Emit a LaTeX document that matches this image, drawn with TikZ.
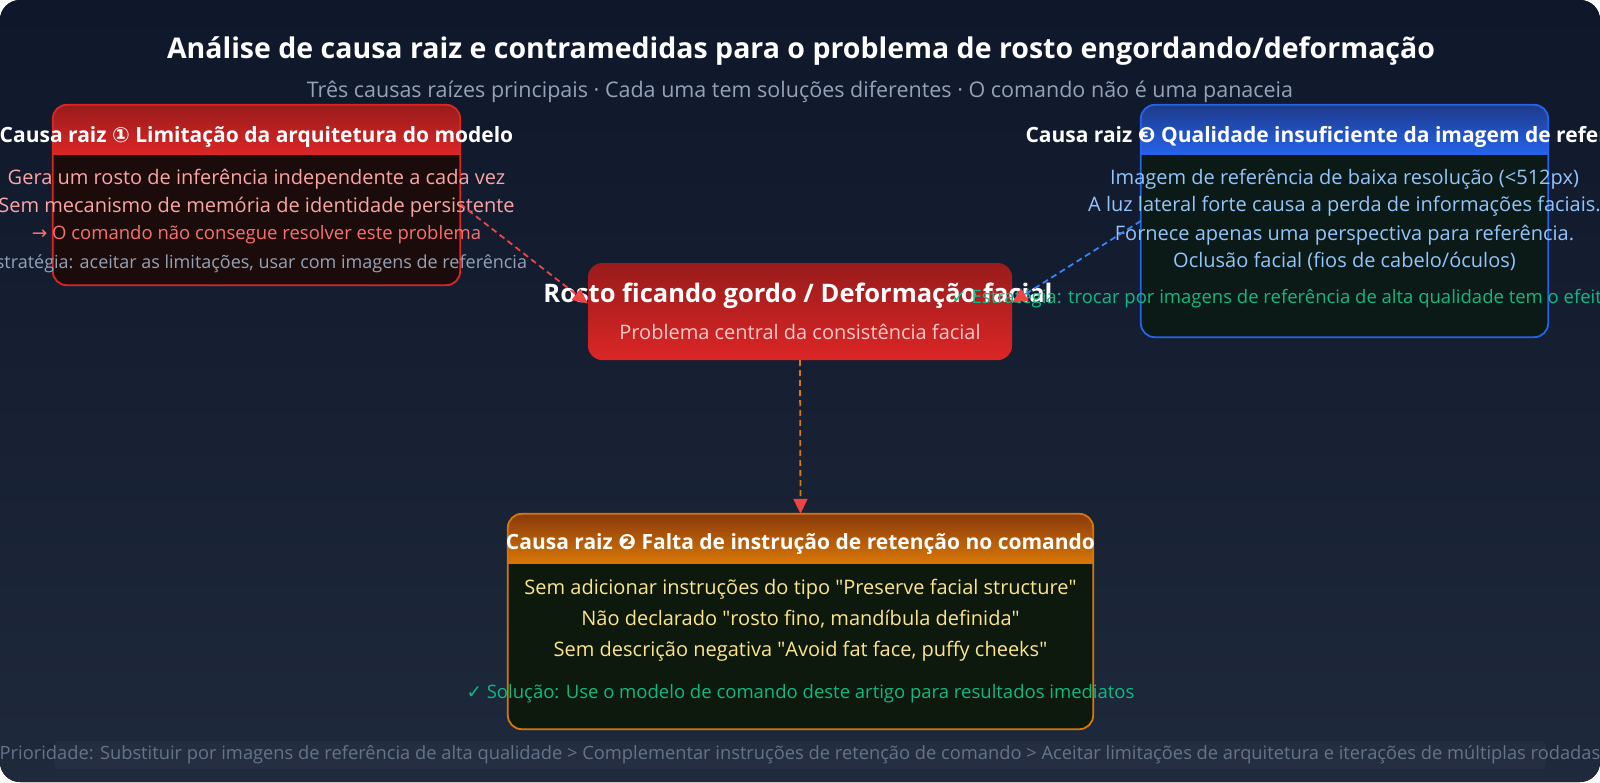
\documentclass[tikz,border=0pt]{standalone}
\usepackage{fontspec}
\setmainfont{Open Sans}
\newfontfamily\symf{DejaVu Sans}
\usetikzlibrary{arrows.meta, positioning}
\definecolor{bgtop}{HTML}{0F172A}
\definecolor{bgbot}{HTML}{1E293B}
\definecolor{redlo}{HTML}{991B1B}
\definecolor{redhi}{HTML}{DC2626}
\definecolor{bluelo}{HTML}{1E3A8A}
\definecolor{bluehi}{HTML}{2563EB}
\definecolor{orglo}{HTML}{8A3A0C}
\definecolor{orghi}{HTML}{D97706}
\definecolor{redbody}{HTML}{1C0B0B}
\definecolor{bluebody}{HTML}{0B1A17}
\definecolor{orgbody}{HTML}{0C190C}
\definecolor{pinktxt}{HTML}{FCA5A5}
\definecolor{redtxt}{HTML}{F87171}
\definecolor{greytxt}{HTML}{94A3B8}
\definecolor{dimtxt}{HTML}{64748B}
\definecolor{bluetxt}{HTML}{93C5FD}
\definecolor{yeltxt}{HTML}{FDE68A}
\definecolor{greentxt}{HTML}{10B981}
\definecolor{tipred}{HTML}{EF4444}
\definecolor{bluelink}{HTML}{3B82F6}
\definecolor{coresub}{HTML}{FECACA}
\tikzset{
  cause/.style n args={3}{rectangle, rounded corners=14pt, fill=#3, inner sep=0pt,
    minimum width=#1, minimum height=#2},
  hdtxt/.style={text=white, font=\bfseries\fontsize{21}{24}\selectfont, inner sep=0pt},
  line/.style={text=#1, font=\fontsize{20}{24}\selectfont, inner sep=0pt},
  note/.style={text=#1, font=\fontsize{18.5}{22}\selectfont, inner sep=0pt},
  link/.style={#1, dash pattern=on 6pt off 4pt, line width=1.8pt, -{Triangle[length=15pt, width=14pt, color=tipred]}},
}
\newcommand{\qq}[1]{\textquotedbl#1\textquotedbl}
\begin{document}
\begin{tikzpicture}[x=1pt, y=1pt]
  \useasboundingbox (0,0) rectangle (1600,-782);
  \fill[top color=bgtop, bottom color=bgbot, rounded corners=20pt] (0,0) rectangle (1600,-782);
  \begin{scope}
  \clip (0,0) rectangle (1600,-782);

  % title
  \node[text=white, font=\bfseries\fontsize{28.5}{32}\selectfont] (title) at (801,-51)
    {Análise de causa raiz e contramedidas para o problema de rosto engordando/deformação};
  \node[text=greytxt, font=\fontsize{21.5}{24}\selectfont] (subtitle) at (800,-92)
    {Três causas raízes principais · Cada uma tem soluções diferentes · O comando não é uma panaceia};

  % boxes
  \node[cause={407pt}{180pt}{redbody}] (rA) at (256.5,-195) {};
  \node[rectangle, rounded corners=14pt, top color=redlo, bottom color=redhi, minimum width=424pt,
    minimum height=97pt] (core) at (800,-311.5) {};
  \node[cause={407pt}{232pt}{bluebody}] (rB) at (1344.5,-221) {};
  \node[cause={585pt}{215pt}{orgbody}] (rD) at (800.5,-621.5) {};
  \foreach \n/\lo/\hi in {rA/redlo/redhi, rB/bluelo/bluehi, rD/orglo/orghi} {
    \begin{scope}
      \clip[rounded corners=14pt] (\n.south west) rectangle (\n.north east);
      \shade[top color=\lo, bottom color=\hi] (\n.north west) rectangle ([yshift=-50pt]\n.north east);
    \end{scope}
    \draw[\hi, line width=1.8pt, rounded corners=14pt] (\n.south west) rectangle (\n.north east);
  }

  % cause 1
  \node[hdtxt] (rAh) at ([yshift=-32pt]rA.north) {Causa raiz {\symf ①} Limitação da arquitetura do modelo};
  \node[line=pinktxt] (rA1) at ([yshift=-74pt]rA.north) {Gera um rosto de inferência independente a cada vez};
  \node[line=pinktxt] (rA2) at ([yshift=-102pt]rA.north) {Sem mecanismo de memória de identidade persistente};
  \node[note=redtxt] (rA3) at ([yshift=-130pt]rA.north) {{\symf →} O comando não consegue resolver este problema};
  \node[note=greytxt, font=\fontsize{18}{22}\selectfont] (rA4) at ([yshift=-159pt]rA.north)
    {Estratégia: aceitar as limitações, usar com imagens de referência};

  % core problem
  \node[text=white, font=\bfseries\fontsize{25.5}{28}\selectfont, inner sep=0pt] (coreT) at (798,-296)
    {Rosto ficando gordo / Deformação facial};
  \node[line=coresub] (coreS) at (800,-332) {Problema central da consistência facial};

  % cause 3
  \node[hdtxt] (rBh) at ([yshift=-32pt]rB.north) {Causa raiz {\symf ❸} Qualidade insuficiente da imagem de referência};
  \node[line=bluetxt] (rB1) at ([yshift=-74pt]rB.north) {Imagem de referência de baixa resolução (<512px)};
  \node[line=bluetxt] (rB2) at ([yshift=-101pt]rB.north) {A luz lateral forte causa a perda de informações faciais.};
  \node[line=bluetxt] (rB3) at ([yshift=-130pt]rB.north) {Fornece apenas uma perspectiva para referência.};
  \node[line=bluetxt] (rB4) at ([yshift=-157pt]rB.north) {Oclusão facial (fios de cabelo/óculos)};
  \node[note=greentxt] (rB5) at ([yshift=-194pt]rB.north)
    {{\symf ✓} Estratégia: trocar por imagens de referência de alta qualidade tem o efeito mais evidente};

  % cause 2
  \node[hdtxt] (rDh) at ([yshift=-30pt]rD.north) {Causa raiz {\symf ❷} Falta de instrução de retenção no comando};
  \node[line=yeltxt] (rD1) at ([yshift=-75pt]rD.north) {Sem adicionar instruções do tipo \qq{Preserve facial structure}};
  \node[line=yeltxt] (rD2) at ([yshift=-105pt]rD.north) {Não declarado \qq{rosto fino, mandíbula definida}};
  \node[line=yeltxt] (rD3) at ([yshift=-137pt]rD.north) {Sem descrição negativa \qq{Avoid fat face, puffy cheeks}};
  \node[note=greentxt] (rD4) at ([yshift=-180pt]rD.north)
    {{\symf ✓} Solução: Use o modelo de comando deste artigo para resultados imediatos};

  % footer
  \fill[white, opacity=.03, rounded corners=6pt] (54,-741) rectangle (1546,-769);
  \node[note=dimtxt, font=\fontsize{18.3}{22}\selectfont] (prio) at (800,-755)
    {Prioridade: Substituir por imagens de referência de alta qualidade > Complementar instruções de retenção de comando > Aceitar limitações de arquitetura e iterações de múltiplas rodadas};

  % links
  \draw[link=tipred] ([yshift=-9pt]rA.east) -- ([yshift=8pt]core.west);
  \draw[link=bluelink] (rB.west) -- ([yshift=9pt]core.east);
  \draw[link=orghi] (core.south) -- (rD.north);
  \end{scope}
\end{tikzpicture}
\end{document}
